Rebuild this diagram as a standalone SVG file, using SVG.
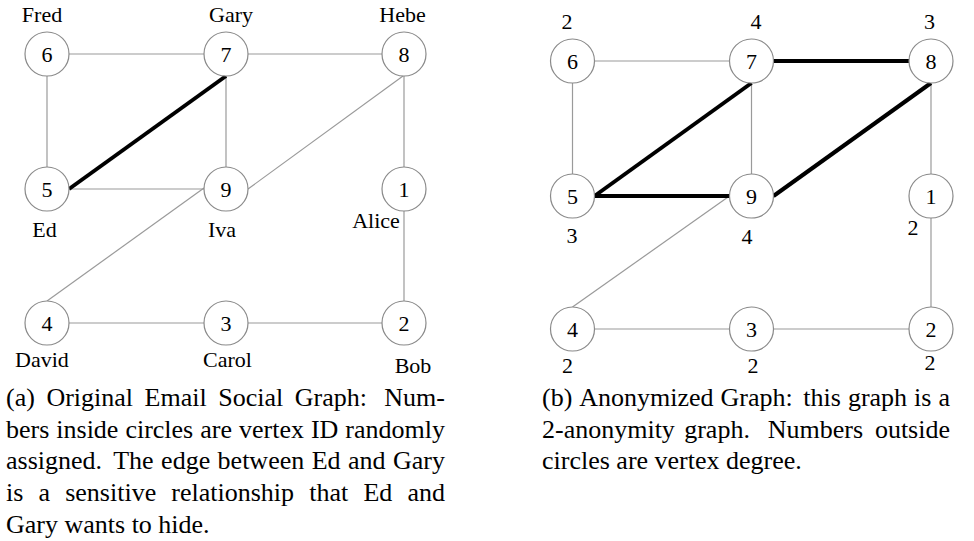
<svg xmlns="http://www.w3.org/2000/svg" width="974" height="541" viewBox="0 0 974 541">
<style>
.e{stroke:#9a9a9a;stroke-width:1.2;fill:none}
.s{stroke:#000;stroke-width:4;fill:none}
.n circle{fill:#fff;stroke:#8a8a8a;stroke-width:1.2}
.n text{font-family:"Liberation Serif","Times New Roman",serif;font-size:22px;fill:#000;text-anchor:middle}
.cap{font-family:"Liberation Serif","Times New Roman",serif;font-size:26px;fill:#000}
</style>
<rect width="974" height="541" fill="#fff"/>
<g id="connectors-a">
<line class="e" x1="69" y1="54" x2="204" y2="54"/>
<line class="e" x1="47" y1="76" x2="47" y2="167"/>
<line class="e" x1="248" y1="54" x2="382" y2="54"/>
<line class="e" x1="226" y1="76" x2="226" y2="167"/>
<line class="e" x1="404" y1="76" x2="404" y2="167"/>
<line class="e" x1="69" y1="189" x2="204" y2="189"/>
<line class="e" x1="248" y1="189" x2="403" y2="76"/>
<line class="e" x1="204" y1="188" x2="47" y2="301"/>
<line class="e" x1="404" y1="211" x2="404" y2="301"/>
<line class="e" x1="69" y1="323" x2="204" y2="323"/>
<line class="e" x1="248" y1="323" x2="382" y2="323"/>
<line class="s" x1="69" y1="189" x2="226" y2="76"/>
</g>
<g id="connectors-b">
<line class="e" x1="594.5" y1="61" x2="729.5" y2="61"/>
<line class="e" x1="572.5" y1="83" x2="572.5" y2="174"/>
<line class="e" x1="751.5" y1="83" x2="751.5" y2="174"/>
<line class="e" x1="931" y1="83" x2="931" y2="174"/>
<line class="e" x1="729.5" y1="196" x2="572.5" y2="307"/>
<line class="e" x1="931" y1="218" x2="931" y2="307"/>
<line class="e" x1="594.5" y1="329" x2="729.5" y2="329"/>
<line class="e" x1="773.5" y1="329" x2="909" y2="329"/>
<line class="s" x1="773.5" y1="61" x2="909" y2="61"/>
<line class="s" x1="751.5" y1="83" x2="594.5" y2="196"/>
<line class="s" x1="594.5" y1="196" x2="729.5" y2="196"/>
<line class="s" x1="773.5" y1="196" x2="931" y2="83"/>
</g>
<g id="a-n6" class="n"><circle cx="47" cy="54" r="22"/><text x="47" y="61.5">6</text><text x="42" y="22">Fred</text></g>
<g id="a-n7" class="n"><circle cx="226" cy="54" r="22"/><text x="226" y="61.5">7</text><text x="231" y="22">Gary</text></g>
<g id="a-n8" class="n"><circle cx="404" cy="54" r="22"/><text x="404" y="61.5">8</text><text x="402.5" y="22">Hebe</text></g>
<g id="a-n5" class="n"><circle cx="47" cy="189" r="22"/><text x="47" y="196.5">5</text><text x="44.5" y="237">Ed</text></g>
<g id="a-n9" class="n"><circle cx="226" cy="189" r="22"/><text x="226" y="196.5">9</text><text x="222" y="237">Iva</text></g>
<g id="a-n1" class="n"><circle cx="404" cy="189" r="22"/><text x="404" y="196.5">1</text><text x="376" y="228">Alice</text></g>
<g id="a-n4" class="n"><circle cx="47" cy="323" r="22"/><text x="47" y="330.5">4</text><text x="42" y="367">David</text></g>
<g id="a-n3" class="n"><circle cx="226" cy="323" r="22"/><text x="226" y="330.5">3</text><text x="227.5" y="367">Carol</text></g>
<g id="a-n2" class="n"><circle cx="404" cy="323" r="22"/><text x="404" y="330.5">2</text><text x="413" y="373">Bob</text></g>
<g id="b-n6" class="n"><circle cx="572.5" cy="61" r="22"/><text x="572.5" y="68.5">6</text><text x="567" y="29">2</text></g>
<g id="b-n7" class="n"><circle cx="751.5" cy="61" r="22"/><text x="751.5" y="68.5">7</text><text x="756" y="29">4</text></g>
<g id="b-n8" class="n"><circle cx="931" cy="61" r="22"/><text x="931" y="68.5">8</text><text x="929.5" y="29">3</text></g>
<g id="b-n5" class="n"><circle cx="572.5" cy="196" r="22"/><text x="572.5" y="203.5">5</text><text x="572" y="243">3</text></g>
<g id="b-n9" class="n"><circle cx="751.5" cy="196" r="22"/><text x="751.5" y="203.5">9</text><text x="747" y="244">4</text></g>
<g id="b-n1" class="n"><circle cx="931" cy="196" r="22"/><text x="931" y="203.5">1</text><text x="913" y="235">2</text></g>
<g id="b-n4" class="n"><circle cx="572.5" cy="329" r="22"/><text x="572.5" y="336.5">4</text><text x="567.5" y="373">2</text></g>
<g id="b-n3" class="n"><circle cx="751.5" cy="329" r="22"/><text x="751.5" y="336.5">3</text><text x="753" y="373">2</text></g>
<g id="b-n2" class="n"><circle cx="931" cy="329" r="22"/><text x="931" y="336.5">2</text><text x="930" y="370">2</text></g>
<g id="caption-a" class="cap">
<text y="406"><tspan x="6">(a)</tspan><tspan x="46.4">Original</tspan><tspan x="144.6">Email</tspan><tspan x="218.3">Social</tspan><tspan x="294.8">Graph:</tspan><tspan x="384.3">Num-</tspan></text>
<text y="437.5"><tspan x="6">bers</tspan><tspan x="56.3">inside</tspan><tspan x="125.4">circles</tspan><tspan x="200.2">are</tspan><tspan x="239">vertex</tspan><tspan x="310.9">ID</tspan><tspan x="345.3">randomly</tspan></text>
<text y="469"><tspan x="6">assigned.</tspan><tspan x="113.2">The</tspan><tspan x="161.1">edge</tspan><tspan x="217.6">between</tspan><tspan x="311.7">Ed</tspan><tspan x="348">and</tspan><tspan x="393">Gary</tspan></text>
<text y="501"><tspan x="6">is</tspan><tspan x="38.5">a</tspan><tspan x="65.2">sensitive</tspan><tspan x="171.3">relationship</tspan><tspan x="309.2">that</tspan><tspan x="363.4">Ed</tspan><tspan x="407.5">and</tspan></text>
<text x="6" y="533">Gary wants to hide.</text>
</g>
<g id="caption-b" class="cap">
<text y="406"><tspan x="542">(b)</tspan><tspan x="579.3">Anonymized</tspan><tspan x="720.6">Graph:</tspan><tspan x="803.3">this</tspan><tspan x="847.9">graph</tspan><tspan x="914.1">is</tspan><tspan x="938.5">a</tspan></text>
<text y="437.5"><tspan x="542">2-anonymity</tspan><tspan x="684.2">graph.</tspan><tspan x="767.7">Numbers</tspan><tspan x="874.9">outside</tspan></text>
<text x="542" y="469">circles are vertex degree.</text>
</g>
</svg>
